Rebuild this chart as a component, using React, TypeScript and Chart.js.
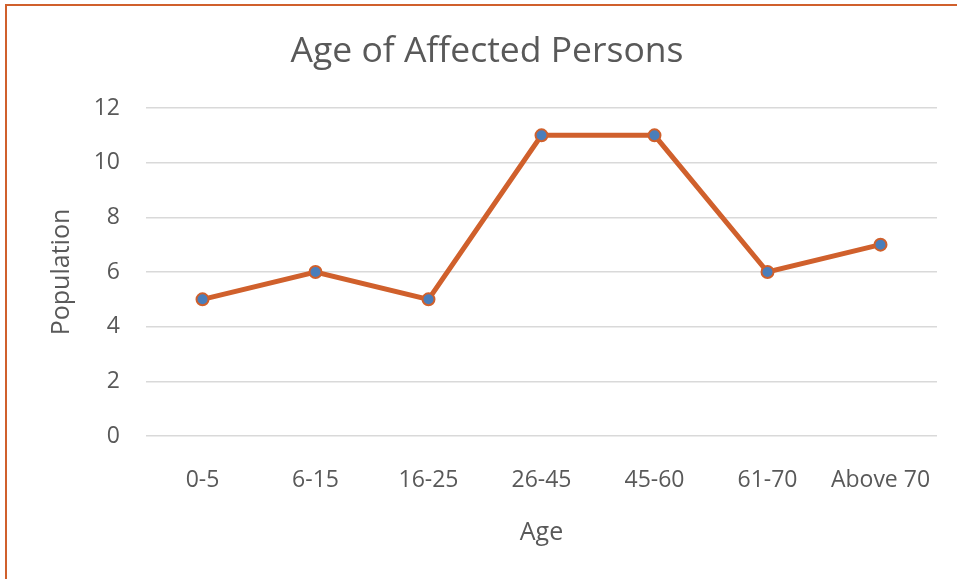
import React, { useEffect, useRef } from "react";
import { Chart, registerables } from "chart.js";

Chart.register(...registerables);

const categories = ["0-5", "6-15", "16-25", "26-45", "45-60", "61-70", "Above 70"];
const population = [5, 6, 5, 11, 11, 6, 7];
const chartTitle = "Age of Affected Persons";
const xTitle = "Age";
const yTitle = "Population";

const ORANGE = "#D0602C";
const BLUE = "#4A7EBB";
const TEXT = "#595959";
const FONT = "'Open Sans', 'Noto Sans', sans-serif";

export default function App() {
  const ref = useRef<HTMLCanvasElement | null>(null);
  useEffect(() => {
    if (!ref.current) return;
    const chart = new Chart(ref.current, {
      type: "line",
      data: {
        labels: categories,
        datasets: [
          {
            data: population,
            borderColor: ORANGE,
            borderWidth: 5,
            pointBackgroundColor: BLUE,
            pointBorderColor: ORANGE,
            pointBorderWidth: 2,
            pointRadius: 6,
            tension: 0,
          },
        ],
      },
      options: {
        animation: false,
        responsive: false,
        maintainAspectRatio: false,
        layout: { padding: { left: 37, right: 20, top: 0, bottom: 0 } },
        plugins: {
          legend: { display: false },
          tooltip: { enabled: false },
          title: {
            display: true,
            text: chartTitle,
            color: TEXT,
            font: { family: FONT, size: 35.5, weight: "normal", lineHeight: 1.2 },
            padding: { top: 31, bottom: 108 - 31 - 35.5 * 1.2 },
          },
        },
        scales: {
          x: {
            offset: true,
            grid: { display: false, drawTicks: false },
            border: { display: false },
            ticks: { color: TEXT, font: { family: FONT, size: 23 }, padding: 31, maxRotation: 0 },
            title: {
              display: true,
              text: xTitle,
              color: TEXT,
              font: { family: FONT, size: 25 },
              padding: { top: 0, bottom: 31 },
            },
            afterFit: (s: any) => {
              s.height = 143;
              s.paddingLeft = 0;
              s.paddingRight = 0;
            },
          },
          y: {
            min: 0,
            max: 12,
            ticks: { stepSize: 2, color: TEXT, font: { family: FONT, size: 23 }, padding: 26 },
            grid: { color: "#D9D9D9", lineWidth: 1.5, drawTicks: false },
            border: { display: false },
            title: {
              display: true,
              text: yTitle,
              color: TEXT,
              font: { family: FONT, size: 25 },
              padding: { top: 10, bottom: 0 },
            },
            afterFit: (s: any) => {
              s.width = 146 - 37;
              s.paddingTop = 0;
              s.paddingBottom = 0;
            },
          },
        },
      },
    });
    return () => chart.destroy();
  }, []);
  return (
    <div style={{ position: "absolute", left: 0, top: 0, width: 957, height: 579, overflow: "hidden", background: "#fff" }}>
      <div
        style={{
          position: "absolute",
          left: 5,
          top: 4,
          width: 1200,
          height: 800,
          border: `2px solid ${ORANGE}`,
          boxSizing: "border-box",
        }}
      />
      <canvas ref={ref} width={957} height={579} style={{ position: "absolute", left: 0, top: 0, width: 957, height: 579 }} />
    </div>
  );
}
